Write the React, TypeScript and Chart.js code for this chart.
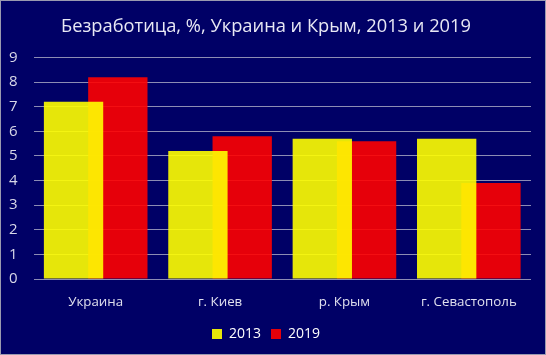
import React, { useEffect, useRef } from "react";
import { Chart, registerables } from "chart.js";

Chart.register(...registerables);

const categories = ["Украина", "г. Киев", "р. Крым", "г. Севастополь"];
const values2013 = [7.2, 5.2, 5.7, 5.7];
const values2019 = [8.2, 5.8, 5.6, 3.9];
const seriesLabels = ["2013", "2019"];
const titleText = "Безработица, %, Украина и Крым, 2013 и 2019";

export default function App() {
  const ref = useRef<HTMLCanvasElement>(null);
  useEffect(() => {
    document.body.style.margin = "0";
    const ctx = ref.current!;
    const font = "'Open Sans', 'Noto Sans', sans-serif";
    const chart = new Chart(ctx, {
      type: "bar",
      data: {
        labels: categories,
        datasets: [
          {
            label: seriesLabels[0],
            data: values2013,
            backgroundColor: "rgba(255,255,0,0.9)",
            borderWidth: 0,
            categoryPercentage: 0.712,
            barPercentage: 1.34,
          },
          {
            label: seriesLabels[1],
            data: values2019,
            backgroundColor: "rgba(255,0,0,0.9)",
            borderWidth: 0,
            categoryPercentage: 0.712,
            barPercentage: 1.34,
          },
        ],
      },
      options: {
        animation: false,
        responsive: false,
        layout: { padding: { left: 0, right: 14, top: 6, bottom: 3 } },
        plugins: {
          title: {
            display: true,
            text: titleText,
            color: "#e8e8f4",
            font: { family: font, size: 18.3, weight: "normal" },
            padding: { top: 9, bottom: 19.5 },
          },
          legend: {
            position: "bottom",
            labels: {
              color: "#ffffff",
              font: { family: font, size: 14 },
              boxWidth: 10,
              boxHeight: 10,
              padding: 10,
            },
          },
          tooltip: { enabled: false },
        },
        scales: {
          x: {
            grid: { display: false },
            border: { display: false },
            ticks: { color: "#e0e0ee", font: { family: font, size: 13.3 }, padding: 7 },
          },
          y: {
            min: 0,
            max: 9,
            afterFit: (s: any) => {
              s.width = 32.5;
            },
            ticks: { stepSize: 1, color: "#d8d8e8", font: { family: font, size: 15 }, padding: 16 },
            grid: { color: "#8c8cb4", drawTicks: false, lineWidth: 1 },
            border: { display: false },
          },
        },
      },
    });
    return () => chart.destroy();
  }, []);
  return (
    <div
      style={{
        width: 546,
        height: 355,
        boxSizing: "border-box",
        border: "1px solid #9a9ab0",
        background: "#000066",
      }}
    >
      <canvas ref={ref} width={544} height={353} style={{ display: "block" }} />
    </div>
  );
}
